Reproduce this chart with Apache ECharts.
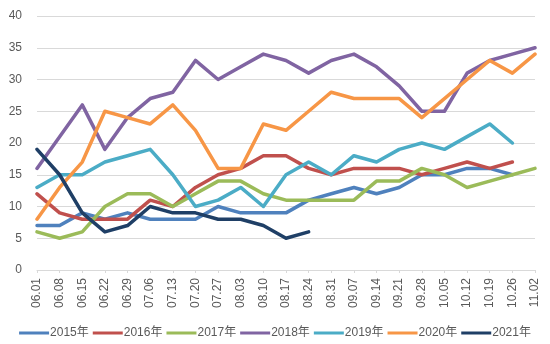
<!DOCTYPE html>
<html>
<head>
<meta charset="utf-8">
<script src="https://cdn.jsdelivr.net/npm/echarts@6/dist/echarts.min.js"></script>
<style>
  html, body { margin: 0; padding: 0; background: #fff; }
  #chart { width: 550px; height: 344px; }
</style>
</head>
<body>
<div id="chart"></div>
<script>
// Weekly dates, June through early November
const categories = ['06.01','06.08','06.15','06.22','06.29','07.06','07.13','07.20','07.27','08.03','08.10','08.17','08.24','08.31','09.07','09.14','09.21','09.28','10.05','10.12','10.19','10.26','11.02'];

const y2015 = [7, 7, 9, 8, 9, 8, 8, 8, 10, 9, 9, 9, 11, 12, 13, 12, 13, 15, 15, 16, 16, 15];
const y2016 = [12, 9, 8, 8, 8, 11, 10, 13, 15, 16, 18, 18, 16, 15, 16, 16, 16, 15, 16, 17, 16, 17];
const y2017 = [6, 5, 6, 10, 12, 12, 10, 12, 14, 14, 12, 11, 11, 11, 11, 14, 14, 16, 15, 13, 14, 15, 16];
const y2018 = [16, 21, 26, 19, 24, 27, 28, 33, 30, 32, 34, 33, 31, 33, 34, 32, 29, 25, 25, 31, 33, 34, 35];
const y2019 = [13, 15, 15, 17, 18, 19, 15, 10, 11, 13, 10, 15, 17, 15, 18, 17, 19, 20, 19, 21, 23, 20];
const y2020 = [8, 13, 17, 25, 24, 23, 26, 22, 16, 16, 23, 22, 25, 28, 27, 27, 27, 24, 27, 30, 33, 31, 34];
const y2021 = [19, 15, 9, 6, 7, 10, 9, 9, 8, 8, 7, 5, 6];

const yTicks = { min: 0, max: 40, interval: 5 };

const seriesDefs = [
  { name: '2015年', data: y2015, color: '#4F81BD' },
  { name: '2016年', data: y2016, color: '#C0504D' },
  { name: '2017年', data: y2017, color: '#9BBB59' },
  { name: '2018年', data: y2018, color: '#8064A2' },
  { name: '2019年', data: y2019, color: '#4BACC6' },
  { name: '2020年', data: y2020, color: '#F79646' },
  { name: '2021年', data: y2021, color: '#1F3F66' }
];

const font = '"Liberation Sans", "Noto Sans CJK SC", sans-serif';
const textColor = '#595959';

const chart = echarts.init(document.getElementById('chart'), null, { renderer: 'canvas' });
chart.setOption({
  animation: false,
  backgroundColor: '#ffffff',
  color: seriesDefs.map(s => s.color),
  grid: { left: 37, right: 15, top: 16, bottom: 74 },
  legend: {
    top: 322,
    left: 'center',
    icon: 'rect',
    itemWidth: 30,
    itemHeight: 3,
    itemGap: 4,
    textStyle: { color: textColor, fontSize: 12, fontFamily: font, padding: [0, 0, 0, -4] },
    data: seriesDefs.map(s => s.name)
  },
  xAxis: {
    type: 'category',
    data: categories,
    boundaryGap: false,
    axisLine: { lineStyle: { color: '#D9D9D9', width: 1 } },
    axisTick: { show: true, alignWithLabel: true, length: 3, lineStyle: { color: '#D9D9D9' } },
    axisLabel: { rotate: 90, interval: 0, color: textColor, fontSize: 12, fontFamily: font, margin: 8 }
  },
  yAxis: {
    type: 'value',
    min: yTicks.min,
    max: yTicks.max,
    interval: yTicks.interval,
    axisLine: { show: false },
    axisTick: { show: false },
    axisLabel: { color: textColor, fontSize: 12, fontFamily: font, margin: 15 },
    splitLine: { lineStyle: { color: '#D9D9D9', width: 1 } }
  },
  series: seriesDefs.map(s => ({
    name: s.name,
    type: 'line',
    data: s.data,
    symbol: 'none',
    lineStyle: { width: 3.5, color: s.color, cap: 'round', join: 'round' },
    itemStyle: { color: s.color }
  }))
});
</script>
</body>
</html>
